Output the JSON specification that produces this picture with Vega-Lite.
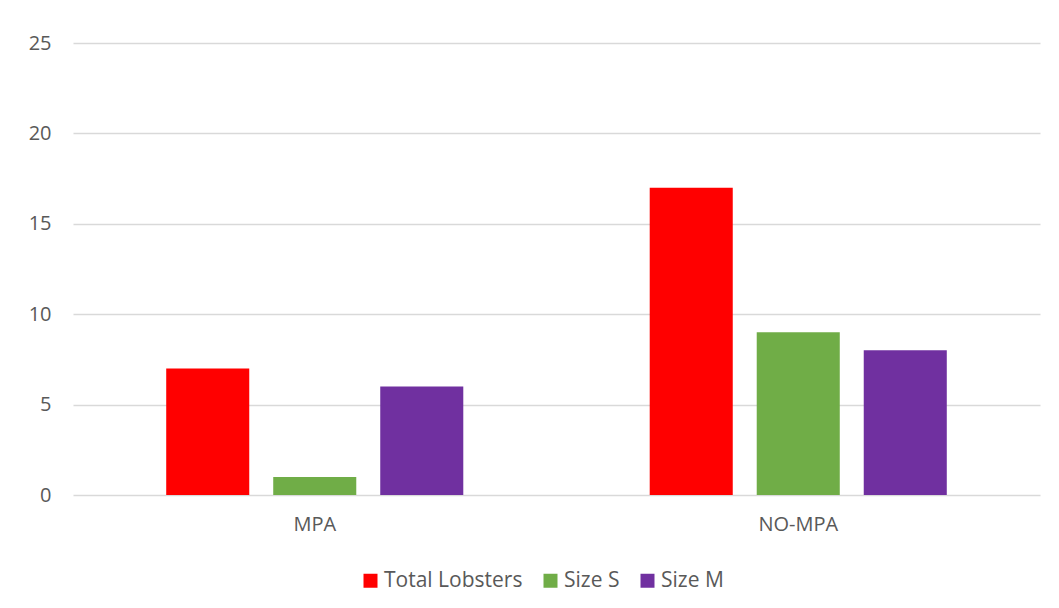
{
  "$schema": "https://vega.github.io/schema/vega-lite/v6.json",
  "width": 967,
  "height": 452,
  "autosize": {"type": "none"},
  "padding": {"left": 73, "top": 43, "right": 19, "bottom": 113},
  "background": "white",
  "config": {"view": {"stroke": null}, "font": "Open Sans"},
  "data": {
    "values": [
      {"site": "MPA", "series": "Total Lobsters", "value": 7},
      {"site": "MPA", "series": "Size S", "value": 1},
      {"site": "MPA", "series": "Size M", "value": 6},
      {"site": "NO-MPA", "series": "Total Lobsters", "value": 17},
      {"site": "NO-MPA", "series": "Size S", "value": 9},
      {"site": "NO-MPA", "series": "Size M", "value": 8}
    ]
  },
  "mark": {"type": "bar"},
  "encoding": {
    "x": {
      "field": "site", "type": "nominal", "sort": ["MPA", "NO-MPA"],
      "scale": {"paddingInner": 0, "paddingOuter": 0},
      "axis": {"title": null, "labelAngle": 0, "domain": false, "ticks": false, "tickSize": 0, "labelPadding": 19, "labelFontSize": 20, "labelColor": "#595959", "labelFont": "Open Sans"}
    },
    "xOffset": {
      "field": "series", "type": "nominal", "sort": ["Total Lobsters", "Size S", "Size M"],
      "scale": {"paddingInner": 0.224, "paddingOuter": 0.871}
    },
    "y": {
      "field": "value", "type": "quantitative",
      "scale": {"domain": [0, 25], "nice": false},
      "axis": {"title": null, "values": [0, 5, 10, 15, 20, 25], "domain": false, "ticks": false, "tickSize": 0, "labelPadding": 22, "labelFontSize": 20, "labelColor": "#595959", "labelFont": "Open Sans", "gridColor": "#d9d9d9", "gridWidth": 1.3}
    },
    "color": {
      "field": "series", "type": "nominal", "sort": ["Total Lobsters", "Size S", "Size M"],
      "scale": {"domain": ["Total Lobsters", "Size S", "Size M"], "range": ["#ff0000", "#70ad47", "#7030a0"]},
      "legend": {"title": null, "orient": "none", "legendX": 287, "legendY": 527, "direction": "horizontal", "symbolType": "square", "symbolSize": 196, "symbolStrokeWidth": 0, "labelFontSize": 21, "labelColor": "#595959", "labelFont": "Open Sans", "labelOffset": 3, "columnPadding": 17}
    }
  }
}
